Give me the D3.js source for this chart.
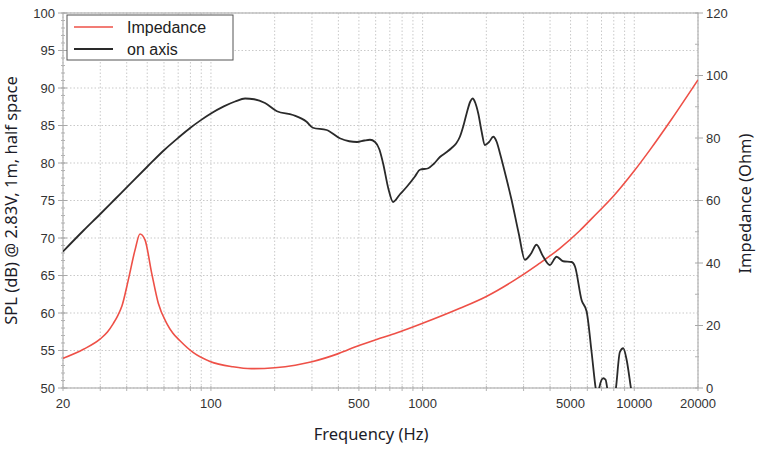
<!DOCTYPE html>
<html>
<head>
<meta charset="utf-8">
<script src="https://cdn.jsdelivr.net/npm/d3@7/dist/d3.min.js"></script>
<style>
    html, body { margin: 0; padding: 0; background: #fff; }
    svg { display: block; }
    .tick-label { font-family: "Liberation Sans", Arial, sans-serif; font-size: 13px; fill: #333; }
    .axis-title { font-family: "Noto Sans", "Open Sans", sans-serif; font-size: 16.5px; fill: #1c1c28; }
    .legend-text { font-family: "Liberation Sans", Arial, sans-serif; font-size: 16px; fill: #222; }
</style>
</head>
<body>
<div id="chart"></div>
<script>
'use strict';

// Frequency response (SPL, on axis) in Hz / dB
var splFreq = [20, 25, 30, 35, 40, 50, 60, 70, 80, 90, 100, 115, 130, 145, 160, 180, 205, 244, 283, 303,
    352, 406, 450, 490, 530, 564, 596, 625, 650, 690, 725, 780, 840, 920, 971, 1064, 1130, 1207, 1290,
    1371, 1440, 1500, 1560, 1614, 1680, 1722, 1775, 1832, 1900, 1969, 2060, 2157, 2240, 2319, 2470, 2631,
    2850, 3042, 3250, 3453, 3700, 3990, 4295, 4615, 5059, 5247, 5640, 5955, 6290, 6568, 6700, 6830, 7135,
    7320, 7450, 7800, 8190, 8550, 8870, 9210, 9640, 10000];
var splValues = [68.2, 71.0, 73.2, 75.1, 76.75, 79.5, 81.7, 83.35, 84.7, 85.75, 86.6, 87.55, 88.2, 88.6, 88.5,
    88.0, 86.9, 86.4, 85.5, 84.7, 84.4, 83.3, 82.9, 82.8, 83.0, 83.1, 82.8, 81.8, 80.0, 76.5, 74.8,
    75.8, 76.8, 78.2, 79.1, 79.3, 79.9, 80.8, 81.4, 82.0, 82.6, 83.5, 85.0, 86.6, 88.2, 88.6, 88.0, 86.6,
    84.2, 82.4, 82.8, 83.5, 82.8, 81.3, 78.3, 75.1, 70.5, 67.1, 67.9, 69.1, 67.6, 66.4, 67.5, 66.9, 66.8,
    66.2, 61.7, 60.2, 54.7, 50.0, 48.5, 50.0, 51.3, 51.1, 50.0, 47.0, 50.0, 54.8, 55.3, 53.7, 50.0, 47.0];

// Impedance in Hz / Ohm
var impFreq = [20, 25, 30, 32.5, 34.6, 36.2, 38, 40.7, 43.8, 46.2, 48.8, 52.5, 56.4, 61.8, 66, 71.4, 82.6,
    99, 127, 155, 200, 250, 300, 400, 500, 629, 782, 1000, 1500, 2000, 2730, 3500, 4450, 5540, 6290, 8000,
    10000, 11860, 15000, 20000];
var impValues = [9.5, 12.4, 15.7, 18.0, 20.7, 23.0, 26.3, 34.6, 44.2, 49.3, 47.4, 36.7, 27.1, 20.7, 17.6,
    15.1, 11.3, 8.5, 6.8, 6.2, 6.5, 7.3, 8.4, 11.0, 13.6, 15.9, 18.0, 20.7, 25.5, 29.3, 34.6, 39.5, 44.7,
    50.4, 54.2, 61.5, 69.5, 76.2, 86.0, 98.6];

var freqTickLabels = [20, 100, 500, 1000, 5000, 10000, 20000];
var freqGrid = [20, 30, 40, 50, 60, 70, 80, 90, 100, 200, 300, 400, 500, 600, 700, 800, 900, 1000,
    2000, 3000, 4000, 5000, 6000, 7000, 8000, 9000, 10000, 20000];
var splTicks = [50, 55, 60, 65, 70, 75, 80, 85, 90, 95, 100];
var impTicks = [0, 20, 40, 60, 80, 100, 120];

var seriesNames = ['Impedance', 'on axis'];
var seriesColors = ['#ee5047', '#2a2a2a'];

var width = 780,
    height = 450,
    margin = {top: 13, right: 82, bottom: 62, left: 63},
    plotW = width - margin.left - margin.right,
    plotH = height - margin.top - margin.bottom;

var svg = d3.select('#chart').append('svg')
    .attr('width', width)
    .attr('height', height);

var x = d3.scaleLog().domain([20, 20000]).range([0, plotW]);
var ySpl = d3.scaleLinear().domain([50, 100]).range([plotH, 0]);
var yImp = d3.scaleLinear().domain([0, 120]).range([plotH, 0]);

var g = svg.append('g')
    .attr('transform', 'translate(' + margin.left + ',' + margin.top + ')');

g.append('defs').append('clipPath')
    .attr('id', 'plot-clip')
    .append('rect')
    .attr('width', plotW)
    .attr('height', plotH);

// dotted grid
g.append('g').selectAll('line')
    .data(freqGrid)
    .enter().append('line')
    .attr('x1', function (d) { return x(d); })
    .attr('x2', function (d) { return x(d); })
    .attr('y1', 0)
    .attr('y2', plotH)
    .attr('stroke', '#c9c9c9')
    .attr('stroke-width', 1)
    .attr('stroke-dasharray', '1.5,2');

g.append('g').selectAll('line')
    .data(splTicks)
    .enter().append('line')
    .attr('x1', 0)
    .attr('x2', plotW)
    .attr('y1', function (d) { return ySpl(d); })
    .attr('y2', function (d) { return ySpl(d); })
    .attr('stroke', '#c9c9c9')
    .attr('stroke-width', 1)
    .attr('stroke-dasharray', '1.5,2');

// frame
g.append('rect')
    .attr('width', plotW)
    .attr('height', plotH)
    .attr('fill', 'none')
    .attr('stroke', '#b3b3b3')
    .attr('stroke-width', 1.2);

// left axis (SPL)
var leftAxis = g.append('g');
leftAxis.selectAll('line.minor')
    .data(d3.range(50, 101))
    .enter().append('line')
    .attr('x1', -2).attr('x2', 2)
    .attr('y1', function (d) { return ySpl(d); })
    .attr('y2', function (d) { return ySpl(d); })
    .attr('stroke', '#b3b3b3');
leftAxis.selectAll('line.major')
    .data(splTicks)
    .enter().append('line')
    .attr('x1', -5).attr('x2', 4)
    .attr('y1', function (d) { return ySpl(d); })
    .attr('y2', function (d) { return ySpl(d); })
    .attr('stroke', '#a8a8a8');
leftAxis.selectAll('text')
    .data(splTicks)
    .enter().append('text')
    .attr('class', 'tick-label')
    .attr('x', -8)
    .attr('y', function (d) { return ySpl(d); })
    .attr('dy', '0.35em')
    .attr('text-anchor', 'end')
    .text(function (d) { return d; });

// right axis (impedance)
var rightAxis = g.append('g').attr('transform', 'translate(' + plotW + ',0)');
rightAxis.selectAll('line.minor')
    .data(d3.range(10, 120, 20))
    .enter().append('line')
    .attr('x1', -3).attr('x2', 1)
    .attr('y1', function (d) { return yImp(d); })
    .attr('y2', function (d) { return yImp(d); })
    .attr('stroke', '#b3b3b3');
rightAxis.selectAll('line.major')
    .data(impTicks)
    .enter().append('line')
    .attr('x1', -3).attr('x2', 5)
    .attr('y1', function (d) { return yImp(d); })
    .attr('y2', function (d) { return yImp(d); })
    .attr('stroke', '#a8a8a8');
rightAxis.selectAll('text')
    .data(impTicks)
    .enter().append('text')
    .attr('class', 'tick-label')
    .attr('x', 8)
    .attr('y', function (d) { return yImp(d); })
    .attr('dy', '0.35em')
    .attr('text-anchor', 'start')
    .text(function (d) { return d; });

// bottom axis (frequency)
var bottomAxis = g.append('g').attr('transform', 'translate(0,' + plotH + ')');
bottomAxis.selectAll('line')
    .data(freqGrid)
    .enter().append('line')
    .attr('x1', function (d) { return x(d); })
    .attr('x2', function (d) { return x(d); })
    .attr('y1', -2)
    .attr('y2', 3)
    .attr('stroke', '#b3b3b3');
bottomAxis.selectAll('text')
    .data(freqTickLabels)
    .enter().append('text')
    .attr('class', 'tick-label')
    .attr('x', function (d) { return x(d); })
    .attr('y', 20)
    .attr('text-anchor', 'middle')
    .text(function (d) { return d; });

// curves
var splLine = d3.line()
    .x(function (d) { return x(d[0]); })
    .y(function (d) { return ySpl(d[1]); })
    .curve(d3.curveMonotoneX);

var impLine = d3.line()
    .x(function (d) { return x(d[0]); })
    .y(function (d) { return yImp(d[1]); })
    .curve(d3.curveMonotoneX);

var curves = g.append('g').attr('clip-path', 'url(#plot-clip)');

curves.append('path')
    .datum(d3.zip(impFreq, impValues))
    .attr('d', impLine)
    .attr('fill', 'none')
    .attr('stroke', seriesColors[0])
    .attr('stroke-width', 1.6);

curves.append('path')
    .datum(d3.zip(splFreq, splValues))
    .attr('d', splLine)
    .attr('fill', 'none')
    .attr('stroke', seriesColors[1])
    .attr('stroke-width', 1.8);

// legend
var legend = g.append('g').attr('transform', 'translate(4,2)');
legend.append('rect')
    .attr('width', 166)
    .attr('height', 45)
    .attr('fill', '#fff')
    .attr('stroke', '#555')
    .attr('stroke-width', 1);
seriesNames.forEach(function (name, i) {
    var cy = 12 + i * 22;
    legend.append('line')
        .attr('x1', 7).attr('x2', 46)
        .attr('y1', cy).attr('y2', cy)
        .attr('stroke', seriesColors[i])
        .attr('stroke-width', i === 0 ? 1.6 : 2.2);
    legend.append('text')
        .attr('class', 'legend-text')
        .attr('x', 60)
        .attr('y', cy)
        .attr('dy', '0.35em')
        .text(name);
});

// axis titles
svg.append('text')
    .attr('class', 'axis-title')
    .attr('x', 371)
    .attr('y', 440)
    .attr('text-anchor', 'middle')
    .text('Frequency (Hz)');

svg.append('text')
    .attr('class', 'axis-title')
    .attr('transform', 'translate(17,' + (margin.top + plotH / 2) + ') rotate(-90)')
    .attr('text-anchor', 'middle')
    .text('SPL (dB) @ 2.83V, 1m, half space');

svg.append('text')
    .attr('class', 'axis-title')
    .attr('transform', 'translate(751,' + (margin.top + plotH / 2 + 3) + ') rotate(-90)')
    .attr('text-anchor', 'middle')
    .text('Impedance (Ohm)');
</script>
</body>
</html>
